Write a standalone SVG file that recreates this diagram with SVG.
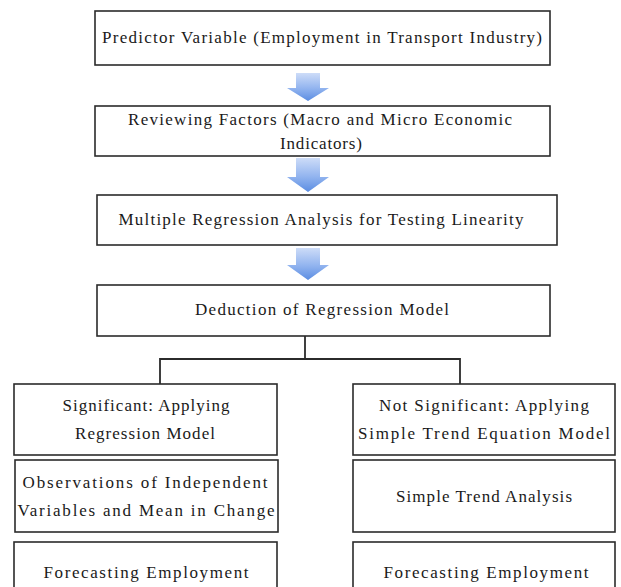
<svg xmlns="http://www.w3.org/2000/svg" width="621" height="587" viewBox="0 0 621 587">
  <style>
    .box { fill: #ffffff; stroke: #2b2b2b; stroke-width: 1.6; }
    .lbl { font-family: "Liberation Serif", "Times New Roman", serif; font-size: 17px; fill: #1a1a1a; text-anchor: middle; }
    .wire { fill: none; stroke: #2b2b2b; stroke-width: 1.8; }
    .flow { fill: url(#blueFlow); }
  </style>
  <defs>
    <linearGradient id="blueFlow" x1="0" y1="0" x2="0" y2="1">
      <stop offset="0" stop-color="#cddcf8"/>
      <stop offset="0.55" stop-color="#92b4ef"/>
      <stop offset="1" stop-color="#5b8de2"/>
    </linearGradient>
  </defs>
  <rect width="621" height="587" fill="#ffffff"/>

  <!-- down arrows between the stacked steps -->
  <g id="arrows">
    <path class="flow" d="M296,73 H320 V88 H329 L308,101 L287,88 H296 Z"/>
    <path class="flow" d="M296,158 H320 V177 H329 L308,192 L287,177 H296 Z"/>
    <path class="flow" d="M296,248 H320 V265 H329 L308,280 L287,265 H296 Z"/>
  </g>

  <!-- branching connector below the model deduction -->
  <g id="connectors">
    <path class="wire" d="M305,336 V359"/>
    <path class="wire" d="M160,384 V359 H460 V384"/>
  </g>

  <g id="predictor">
    <rect class="box" x="95" y="11" width="455" height="54"/>
    <text class="lbl" x="322" y="43" textLength="440" lengthAdjust="spacing">Predictor Variable (Employment in Transport Industry)</text>
  </g>

  <g id="reviewing">
    <rect class="box" x="95" y="106" width="455" height="50"/>
    <text class="lbl" x="320" y="125" textLength="384" lengthAdjust="spacing">Reviewing Factors (Macro and Micro Economic</text>
    <text class="lbl" x="321" y="149" textLength="82" lengthAdjust="spacing">Indicators)</text>
  </g>

  <g id="multiple-regression">
    <rect class="box" x="97" y="195" width="460" height="50"/>
    <text class="lbl" x="321" y="225" textLength="405" lengthAdjust="spacing">Multiple Regression Analysis for Testing Linearity</text>
  </g>

  <g id="deduction">
    <rect class="box" x="97" y="285" width="453" height="51"/>
    <text class="lbl" x="322" y="315" textLength="254" lengthAdjust="spacing">Deduction of Regression Model</text>
  </g>

  <g id="significant">
    <rect class="box" x="14" y="384" width="263" height="71"/>
    <text class="lbl" x="146" y="411" textLength="167" lengthAdjust="spacing">Significant: Applying</text>
    <text class="lbl" x="145" y="439" textLength="140" lengthAdjust="spacing">Regression Model</text>
  </g>

  <g id="observations">
    <rect class="box" x="15" y="460" width="263" height="72"/>
    <text class="lbl" x="145" y="488" textLength="245" lengthAdjust="spacing">Observations of Independent</text>
    <text class="lbl" x="146" y="516" textLength="257" lengthAdjust="spacing">Variables and Mean in Change</text>
  </g>

  <g id="forecast-left">
    <rect class="box" x="14" y="542" width="263" height="52"/>
    <text class="lbl" x="146" y="578" textLength="205" lengthAdjust="spacing">Forecasting Employment</text>
  </g>

  <g id="not-significant">
    <rect class="box" x="353" y="384" width="262" height="71"/>
    <text class="lbl" x="484" y="411" textLength="210" lengthAdjust="spacing">Not Significant: Applying</text>
    <text class="lbl" x="484" y="439" textLength="252" lengthAdjust="spacing">Simple Trend Equation Model</text>
  </g>

  <g id="trend-analysis">
    <rect class="box" x="353" y="460" width="262" height="72"/>
    <text class="lbl" x="484" y="502" textLength="176" lengthAdjust="spacing">Simple Trend Analysis</text>
  </g>

  <g id="forecast-right">
    <rect class="box" x="353" y="542" width="262" height="52"/>
    <text class="lbl" x="486" y="578" textLength="205" lengthAdjust="spacing">Forecasting Employment</text>
  </g>
</svg>
